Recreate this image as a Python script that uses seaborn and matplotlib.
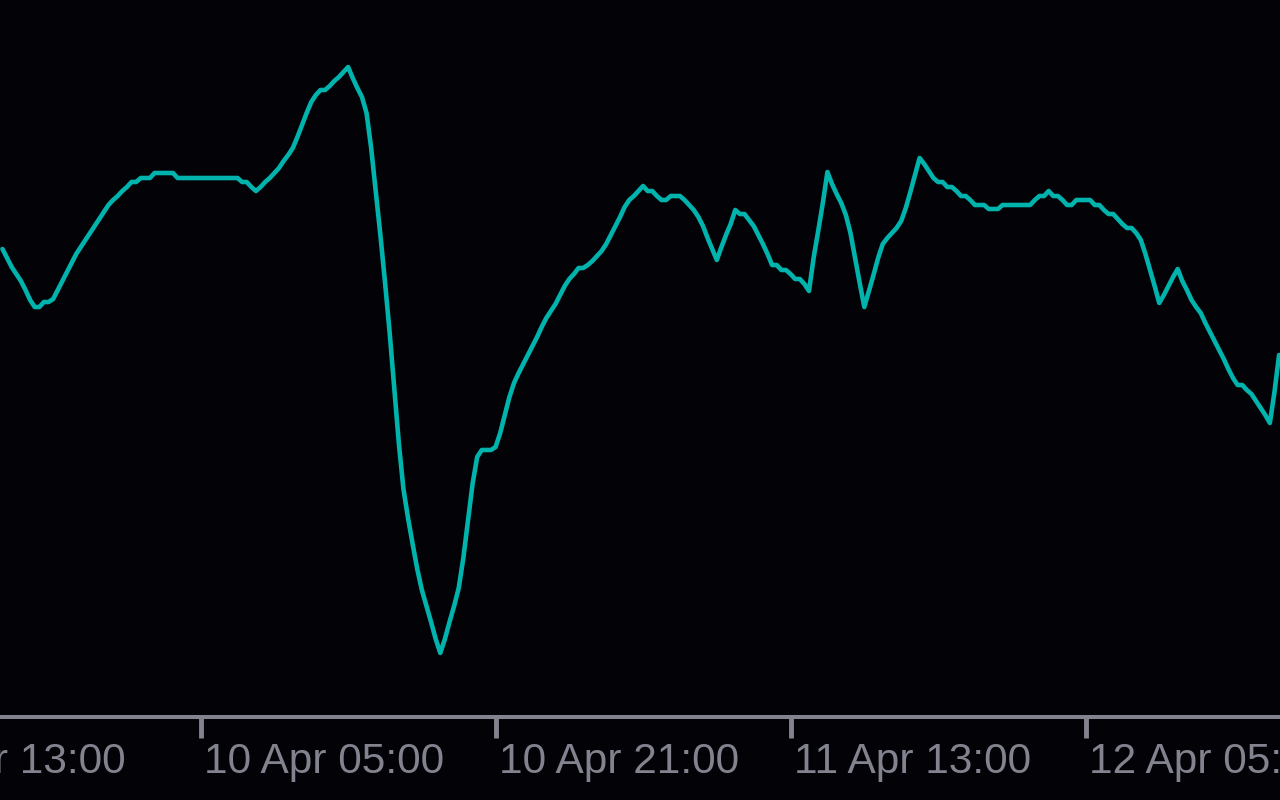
import matplotlib
matplotlib.use("Agg")
import matplotlib.pyplot as plt
import matplotlib.dates as mdates
import matplotlib.transforms as mtransforms
import pandas as pd
import seaborn as sns

# 15 minute bars, first visible bar is 9 Apr 18:15
start_time = "2024-04-09 18:15"
close_values = [
    451, 442, 433, 426, 419, 410, 400, 393, 393, 398, 398, 401,
    410, 419, 428, 437, 446, 453, 460, 467, 474, 481, 488, 495,
    500, 504, 509, 513, 518, 518, 522, 522, 522, 527, 527, 527, 527, 527,
    522, 522, 522, 522, 522, 522, 522, 522, 522, 522, 522, 522, 522, 522,
    518, 518, 513, 509, 513, 518, 522, 527,
    532, 539, 545, 552, 563, 575, 587, 598, 605, 610, 610, 614, 619, 623, 628, 633,
    622, 612, 603, 587, 552, 509, 465, 418,
    368, 313, 257, 211, 182, 156, 131, 110, 94, 78, 61, 47,
    61, 78, 94, 112, 142, 179, 216, 243, 250, 250, 250,
    253, 267, 285, 303, 317, 327, 336, 345, 354, 363, 373, 382,
    389, 396, 405, 414, 421, 426, 432, 432, 435, 439, 444, 449,
    456, 465, 474, 483, 493, 500, 504, 509, 514,
    509, 509, 504, 500, 500, 504, 504, 504, 500, 495, 490,
    483, 474, 462, 451, 440, 453, 465, 476, 490, 486, 486,
    480, 474, 465, 456, 446, 435, 435, 430, 430, 426, 421, 421, 416,
    409, 442, 469, 497, 528, 516, 506, 497, 485, 467, 442, 417, 393,
    409, 425, 442, 456, 462, 467, 472, 479, 492, 508, 525, 542,
    536, 529, 522, 518, 518, 513, 513, 509, 504, 504, 500,
    495, 495, 495, 491, 491, 491, 495, 495, 495, 495, 495, 495, 495,
    500, 504, 504, 509, 504, 504, 500, 495, 495,
    500, 500, 500, 500, 495, 495, 490, 486, 486,
    481, 476, 472, 472, 467, 460, 446, 430, 414, 397,
    405, 414, 423, 431, 419, 410, 400, 393,
    387, 377, 368, 359, 350, 341, 331, 322,
    315, 315, 310, 306, 299, 292, 285, 277, 308, 345,
]

tick_times = ["2024-04-09 13:00", "2024-04-10 05:00", "2024-04-10 21:00",
              "2024-04-11 13:00", "2024-04-12 05:00"]
tick_labels = ["9 Apr 13:00", "10 Apr 05:00", "10 Apr 21:00",
               "11 Apr 13:00", "12 Apr 05:00"]
view_start = "2024-04-09 18:07"
view_end = "2024-04-12 15:33"

BG = "#030307"
LINE = "#00B3AD"
AXIS = "#82838E"


def main():
    sns.set_theme(style="dark")
    plt.rcParams["font.family"] = ["Liberation Sans", "DejaVu Sans"]

    df = pd.DataFrame({
        "time": pd.date_range(start_time, periods=len(close_values), freq="15min"),
        "value": close_values,
    })

    fig = plt.figure(figsize=(12.8, 8), dpi=100, facecolor=BG)
    ax = fig.add_axes([0, 0.10375, 1, 0.89625])
    ax.set_facecolor(BG)

    sns.lineplot(data=df, x="time", y="value", ax=ax, color=LINE, linewidth=3.3)

    ax.set_xlabel("")
    ax.set_ylabel("")
    ax.grid(False)

    tick_pos = [mdates.date2num(pd.Timestamp(t)) for t in tick_times]
    ax.set_xticks(tick_pos)
    ax.set_xticklabels([])
    ax.set_yticks([])
    # set the view after the ticks, otherwise set_xticks widens it
    ax.set_xlim(mdates.date2num(pd.Timestamp(view_start)),
                mdates.date2num(pd.Timestamp(view_end)))
    ax.set_ylim(-17, 700)

    ax.tick_params(axis="x", bottom=True, direction="out", length=15, width=3.5,
                   color=AXIS)

    # time labels start just right of their tick; the first tick is off screen
    # but its label still shows, so draw them as texts
    trans = mtransforms.blended_transform_factory(ax.transData, ax.transAxes)
    trans = trans + mtransforms.ScaledTranslation(3 / 100, -25 / 100, fig.dpi_scale_trans)
    for pos, lab in zip(tick_pos, tick_labels):
        ax.text(pos, 0, lab, transform=trans, ha="left", va="top",
                fontsize=30.5, color=AXIS, clip_on=False)

    for side in ["top", "left", "right"]:
        ax.spines[side].set_visible(False)
    ax.spines["bottom"].set_color(AXIS)
    ax.spines["bottom"].set_linewidth(2.9)

    fig.savefig("out.png", dpi=100, facecolor=BG)
    plt.close(fig)


if __name__ == "__main__":
    main()
